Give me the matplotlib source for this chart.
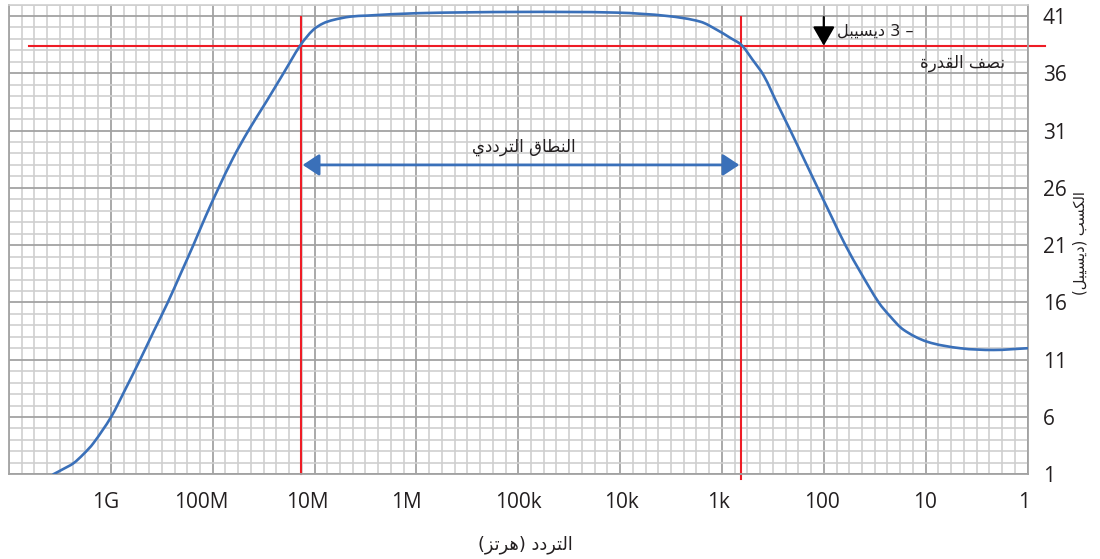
import re
import numpy as np
import matplotlib
matplotlib.use("Agg")
import matplotlib.pyplot as plt
from matplotlib.ticker import FixedLocator, NullFormatter
from matplotlib.path import Path
from matplotlib.patches import PathPatch

# ---------------------------------------------------------------- data
# frequency response: log10(frequency in Hz) and gain in dB
log_freq = [9.565, 9.470, 9.368, 9.270, 9.172, 8.998, 8.856, 8.713, 8.578, 8.441,
            8.315, 8.190, 8.070, 7.947, 7.800, 7.649, 7.475, 7.305, 7.137, 7.014,
            6.916, 6.817, 6.650, 6.486, 5.995, 5.013, 4.030, 3.539, 3.212, 3.048,
            2.917, 2.809, 2.701, 2.590, 2.460, 2.328, 2.194, 2.060, 1.925, 1.788,
            1.631, 1.461, 1.346, 1.215, 0.985, 0.658, 0.331, 0.003]
gain_db = [1.0, 1.45, 1.96, 2.75, 3.71, 6.0, 8.45, 11.0, 13.5, 16.0,
           18.5, 21.0, 23.5, 25.9, 28.6, 31.0, 33.5, 36.0, 38.47, 39.78,
           40.35, 40.65, 40.94, 41.03, 41.24, 41.35, 41.29, 41.0, 40.5, 39.78,
           39.08, 38.47, 37.2, 35.8, 33.4, 31.0, 28.5, 26.0, 23.5, 21.0,
           18.5, 16.0, 14.76, 13.6, 12.57, 12.0, 11.85, 12.0]

half_power_db = 38.4           # peak - 3 dB
f_low_cut = 13.7e6             # Hz, left crossing
f_high_cut = 644.0             # Hz, right crossing
band_arrow_db = 28.0
marker_freq = 100.0            # Hz, position of the -3 dB marker

x_tick_values = [1e9, 1e8, 1e7, 1e6, 1e5, 1e4, 1e3, 1e2, 1e1, 1e0]
x_tick_labels = ["1G", "100M", "10M", "1M", "100k", "10k", "1k", "100", "10", "1"]
x_label_shift_px = [-5, -11, -7, -10, 0, 1, -3, -1.5, -1, -3]
y_tick_values = [1, 6, 11, 16, 21, 26, 31, 36, 41]

txt_band = "النطاق الترددي"
txt_3db = "– 3 ديسيبل"
txt_half = "نصف القدرة"
txt_xlabel = "التردد (هرتز)"
txt_ylabel = "الكسب (ديسيبل)"

# ------------------------------------------------- arabic text shaping
# contextual forms: isolated, final, initial, medial
FORMS = {
    'ا': ('\uFE8D', '\uFE8E', None, None),
    'ب': ('\uFE8F', '\uFE90', '\uFE91', '\uFE92'),
    'ة': ('\uFE93', '\uFE94', None, None),
    'ت': ('\uFE95', '\uFE96', '\uFE97', '\uFE98'),
    'د': ('\uFEA9', '\uFEAA', None, None),
    'ر': ('\uFEAD', '\uFEAE', None, None),
    'ز': ('\uFEAF', '\uFEB0', None, None),
    'س': ('\uFEB1', '\uFEB2', '\uFEB3', '\uFEB4'),
    'ص': ('\uFEB9', '\uFEBA', '\uFEBB', '\uFEBC'),
    'ط': ('\uFEC1', '\uFEC2', '\uFEC3', '\uFEC4'),
    'ف': ('\uFED1', '\uFED2', '\uFED3', '\uFED4'),
    'ق': ('\uFED5', '\uFED6', '\uFED7', '\uFED8'),
    'ك': ('\uFED9', '\uFEDA', '\uFEDB', '\uFEDC'),
    'ل': ('\uFEDD', '\uFEDE', '\uFEDF', '\uFEE0'),
    'ن': ('\uFEE5', '\uFEE6', '\uFEE7', '\uFEE8'),
    'ه': ('\uFEE9', '\uFEEA', '\uFEEB', '\uFEEC'),
    'ي': ('\uFEF1', '\uFEF2', '\uFEF3', '\uFEF4'),
}


def shape(s):
    out = []
    for i, ch in enumerate(s):
        if ch not in FORMS:
            out.append(ch)
            continue
        prev = s[i - 1] if i > 0 else ''
        nxt = s[i + 1] if i + 1 < len(s) else ''
        join_prev = prev in FORMS and FORMS[prev][2] is not None
        join_next = FORMS[ch][2] is not None and nxt in FORMS
        iso, fin, ini, med = FORMS[ch]
        if join_prev and join_next:
            out.append(med)
        elif join_prev:
            out.append(fin)
        elif join_next:
            out.append(ini)
        else:
            out.append(iso)
    return ''.join(out)


def visual(s):
    r = shape(s)[::-1]
    r = re.sub(r'[0-9]+', lambda m: m.group(0)[::-1], r)
    return r.translate(str.maketrans('()', ')('))


def smooth_path(lx, ly, sx=101.8, sy=11.457):
    """Chord-length Catmull-Rom through the points, as cubic Bezier segments
    in (log10 f, gain) space; returned vertices are in (f, gain)."""
    p = np.column_stack([np.asarray(lx) * sx, np.asarray(ly) * sy])
    n = len(p)
    t = np.concatenate([[0], np.cumsum(np.hypot(*np.diff(p, axis=0).T))])
    m = np.zeros_like(p)
    m[1:-1] = (p[2:] - p[:-2]) / (t[2:] - t[:-2])[:, None]
    m[0] = (p[1] - p[0]) / (t[1] - t[0])
    m[-1] = (p[-1] - p[-2]) / (t[-1] - t[-2])
    verts = [p[0]]
    codes = [Path.MOVETO]
    for i in range(n - 1):
        h = t[i + 1] - t[i]
        verts += [p[i] + m[i] * h / 3, p[i + 1] - m[i + 1] * h / 3, p[i + 1]]
        codes += [Path.CURVE4] * 3
    v = np.array(verts)
    v = np.column_stack([10 ** (v[:, 0] / sx), v[:, 1] / sy])
    return Path(v, codes)


# ---------------------------------------------------------------- style
BLUE = "#3a70b9"
RED = "#ee1c25"
MINOR = "#cfcfcf"
MAJOR = "#a2a2a2"
TEXT = "#231f20"
plt.rcParams['font.family'] = ['Open Sans', 'DejaVu Sans']
AR_FONT = ['DejaVu Sans']

fig = plt.figure(figsize=(11, 5.59), dpi=100)
ax = fig.add_axes([9 / 1100, (559 - 474.3) / 559, (1027.5 - 9) / 1100, (474.3 - 4.5) / 559])

ax.set_xscale('log')
ax.set_xlim(1e10, 1)
ax.set_ylim(1, 42)

# graph-paper grid: 8 equal steps per decade, 1 dB steps vertically
ax.xaxis.set_major_locator(FixedLocator(x_tick_values))
ax.xaxis.set_minor_locator(FixedLocator([10 ** (k / 8) for k in range(0, 81)]))
ax.xaxis.set_minor_formatter(NullFormatter())
ax.set_xticklabels([])
ax.yaxis.set_major_locator(FixedLocator(y_tick_values))
ax.yaxis.set_minor_locator(FixedLocator(np.arange(1, 43, 1)))
ax.grid(which='minor', color=MINOR, lw=1.2, zorder=0)
ax.grid(which='major', color=MAJOR, lw=1.3, zorder=0.5)
ax.set_axisbelow(True)
for side in ('left', 'bottom', 'right'):
    ax.spines[side].set_color(MAJOR)
    ax.spines[side].set_linewidth(1.3)
ax.spines['top'].set_color(MINOR)
ax.spines['top'].set_linewidth(1.2)

ax.yaxis.tick_right()
ax.tick_params(which='both', length=0)
ax.tick_params(axis='y', pad=11, labelsize=15, labelcolor=TEXT)

# frequency labels under the major lines
for v, lab, dx in zip(x_tick_values, x_tick_labels, x_label_shift_px):
    ax.annotate(lab, xy=(v, 0), xycoords=('data', 'axes fraction'),
                xytext=(dx * 0.72, -24.5), textcoords='offset points',
                ha='center', va='baseline', fontsize=15, color=TEXT,
                annotation_clip=False)

# response curve
ax.add_patch(PathPatch(smooth_path(log_freq, gain_db), facecolor='none',
                       edgecolor=BLUE, lw=1.9, zorder=3, capstyle='round'))

# half-power line and cut-off frequencies
ax.plot([10 ** 9.8, 10 ** -0.167], [half_power_db, half_power_db], color=RED,
        lw=1.5, zorder=2, clip_on=False)
ax.plot([f_low_cut, f_low_cut], [40.9, 1.0], color=RED, lw=1.5, zorder=2, clip_on=False)
ax.plot([f_high_cut, f_high_cut], [40.9, 0.55], color=RED, lw=1.5, zorder=2, clip_on=False)

# bandwidth arrow
ax.annotate('', xy=(f_high_cut, band_arrow_db), xytext=(f_low_cut, band_arrow_db),
            arrowprops=dict(arrowstyle='<|-|>,head_length=0.5,head_width=0.33',
                            mutation_scale=20, color=BLUE, lw=2.0,
                            shrinkA=1.5, shrinkB=1.5), zorder=4)
ax.text(10 ** 4.95, 29.6, visual(txt_band), ha='center', va='center',
        fontsize=12, color=TEXT, family=AR_FONT)

# -3 dB marker
ax.annotate('', xy=(marker_freq, half_power_db), xytext=(marker_freq, 40.9),
            arrowprops=dict(arrowstyle='-|>,head_length=0.4,head_width=0.23',
                            mutation_scale=29, color='black', lw=1.6,
                            shrinkA=0, shrinkB=0), zorder=4)
ax.text(10 ** 1.87, 39.7, visual(txt_3db), ha='left', va='center',
        fontsize=11.6, color=TEXT, family=AR_FONT)
ax.text(10 ** 0.216, 36.9, visual(txt_half), ha='right', va='center',
        fontsize=12, color=TEXT, family=AR_FONT)

# axis titles
fig.text(525 / 1100, 1 - 545 / 559, visual(txt_xlabel), ha='center', va='center',
         fontsize=12.8, color=TEXT, family=AR_FONT)
fig.text(1080 / 1100, 1 - 243 / 559, visual(txt_ylabel), ha='center', va='center',
         rotation=90, fontsize=10.5, color=TEXT, family=AR_FONT)

fig.savefig("out.png", dpi=100)
